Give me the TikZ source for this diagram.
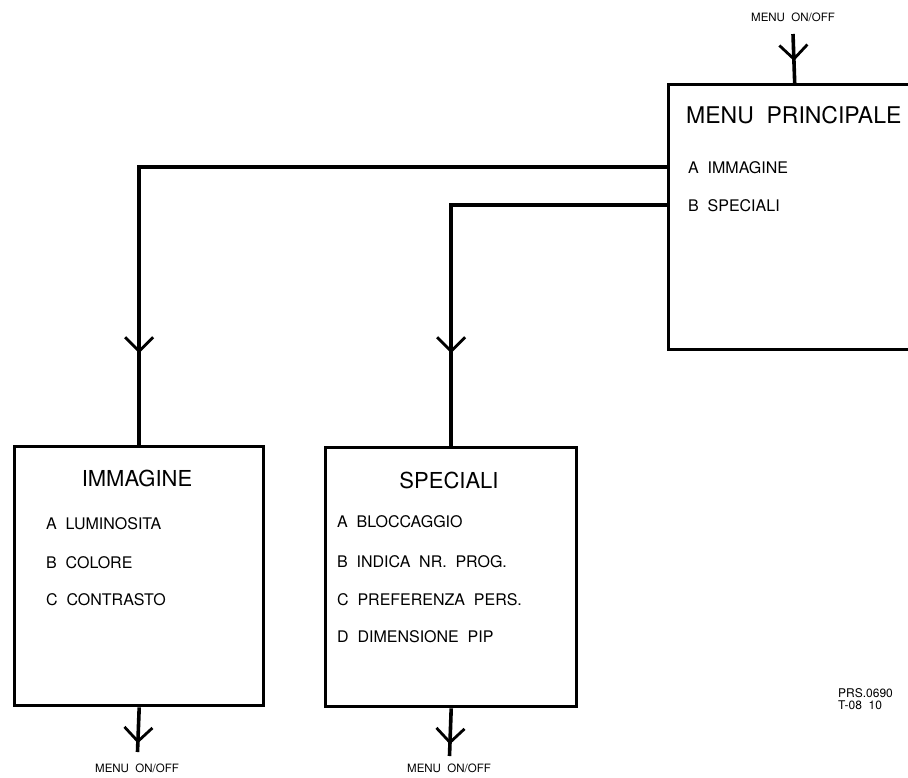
\documentclass[tikz,border=0pt]{standalone}
\usepackage{fontspec}
\setmainfont{TeX Gyre Heros}
\usetikzlibrary{arrows.meta,decorations.markings}
\tikzset{
  box/.style={draw, line width=3.4pt, anchor=north west, inner sep=0pt},
  conn/.style={line width=3.6pt},
  chev/.style={postaction={decorate, decoration={markings,
     mark=at position #1 with {\arrow{Straight Barb[length=14pt,width=28pt,line width=2.8pt]}}}}},
  ttl/.style={font=\fontsize{22}{24}\selectfont, inner sep=0pt},
  bigttl/.style={font=\fontsize{23}{25}\selectfont, inner sep=0pt, anchor=west},
  item/.style={font=\fontsize{16}{18}\selectfont, inner sep=0pt, anchor=west},
  small/.style={font=\fontsize{11.5}{13}\selectfont, inner sep=0pt},
  code/.style={font=\fontsize{12}{12.5}\selectfont, inner sep=0pt, anchor=west, align=left}
}
\newcommand{\wsp}{\hspace{0.55em}}
\begin{document}
\begin{tikzpicture}[x=1pt,y=-1pt]
\useasboundingbox (0,0) rectangle (908,777);
\clip (0,0) rectangle (908,777);

% boxes
\node[box, minimum width=252pt, minimum height=265pt] (main) at (667,83) {};
\node[box, minimum width=249pt, minimum height=259pt] (imm) at (13,445) {};
\node[box, minimum width=251pt, minimum height=259pt] (spe) at (324,446) {};

% main texts
\node[bigttl] (mt) at (686,115) {MENU\wsp PRINCIPALE};
\node[item] (ma) at (688,168) {A\wsp IMMAGINE};
\node[item] (mb) at (688,206) {B\wsp SPECIALI};

% immagine texts
\node[ttl] (it) at (137,478) {IMMAGINE};
\node[item] (ia) at (46,524) {A\wsp LUMINOSITA};
\node[item] (ib) at (46,563) {B\wsp COLORE};
\node[item] (ic) at (46,600) {C\wsp CONTRASTO};

% speciali texts
\node[ttl] (st) at (449,480) {SPECIALI};
\node[item] (sa) at (337,522) {A\wsp BLOCCAGGIO};
\node[item] (sb) at (337,562) {B\wsp INDICA\wsp NR.\wsp PROG.};
\node[item] (sc) at (337,600) {C\wsp PREFERENZA\wsp PERS.};
\node[item] (sd) at (337,637) {D\wsp DIMENSIONE\wsp PIP};

% labels
\node[small] (ltop) at (793,17) {MENU\wsp ON/OFF};
\node[small] (limm) at (137,768) {MENU\wsp ON/OFF};
\node[small] (lspe) at (449,768) {MENU\wsp ON/OFF};
\node[code] (code) at (838,699) {PRS.0690\\T-08\wsp 10};

% connector endpoints
\coordinate (topin) at (793,34);
\coordinate (immout) at (137.5,752);
\coordinate (speout) at (449.5,756);
\coordinate (ma0) at (667,167);
\coordinate (mb0) at (667,205);

% connectors
\draw[conn, chev=27pt] (topin) -- (main.north);
\draw[conn, chev=714pt] (ma0) -| (imm.north);
\draw[conn, chev=364pt] (mb0) -| (spe.north);
\draw[conn, chev=36pt] (imm.south) -- (immout);
\draw[conn, chev=36pt] (spe.south) -- (speout);
\end{tikzpicture}
\end{document}
